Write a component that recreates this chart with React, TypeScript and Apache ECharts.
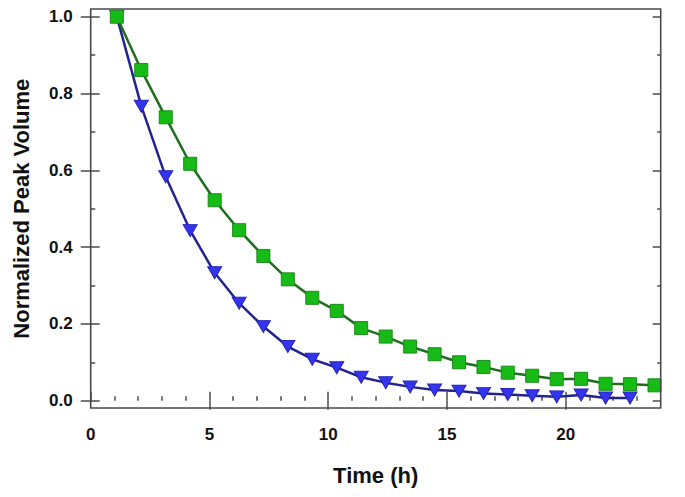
import React, { useEffect, useRef } from "react";
import * as echarts from "echarts";

const timeH = [1.10, 2.13, 3.16, 4.19, 5.22, 6.25, 7.27, 8.30, 9.33, 10.36, 11.39, 12.42, 13.45, 14.48, 15.51, 16.54, 17.56, 18.59, 19.62, 20.65, 21.68, 22.71, 23.74];
const greenValues = [1.0, 0.861, 0.738, 0.617, 0.522, 0.444, 0.377, 0.316, 0.268, 0.234, 0.189, 0.167, 0.141, 0.121, 0.100, 0.088, 0.073, 0.065, 0.056, 0.057, 0.044, 0.043, 0.040];
const blueValues = [1.0, 0.767, 0.583, 0.443, 0.333, 0.254, 0.193, 0.141, 0.108, 0.086, 0.061, 0.047, 0.036, 0.028, 0.025, 0.019, 0.016, 0.013, 0.010, 0.015, 0.007, 0.007];

const xMajorTicks = [0, 5, 10, 15, 20];
const xMinorTicks = [1, 2, 3, 4, 6, 7, 8, 9, 11, 12, 13, 14, 16, 17, 18, 19, 21, 22, 23];
const yMajorTicks = [0, 0.2, 0.4, 0.6, 0.8, 1.0];
const yMinorTicks = [0.1, 0.3, 0.5, 0.7, 0.9];

const FONT = "'Liberation Sans', Arial, sans-serif";
const AXIS_COLOR = "#4a4a4a";

export default function App() {
  const ref = useRef<HTMLDivElement>(null);
  useEffect(() => {
    if (!ref.current) return;
    const chart = echarts.init(ref.current, null, { renderer: "svg" });
    const baseX = { type: "value", min: 0, max: 24, gridIndex: 0, splitLine: { show: false }, axisLine: { show: false } };
    const baseY = { type: "value", min: 0, max: 1, gridIndex: 0, splitLine: { show: false }, axisLine: { show: false } };
    const tickStyle = { color: AXIS_COLOR, width: 1.5 };
    chart.setOption({
      animation: false,
      backgroundColor: "#ffffff",
      grid: { left: 90.7, right: 24.3, top: 16.7, bottom: 96.3, containLabel: false },
      xAxis: [
        {
          ...baseX,
          position: "bottom",
          offset: 7.3,
          axisTick: { show: true, inside: true, length: 9, lineStyle: tickStyle, customValues: xMajorTicks },
          axisLabel: { show: true, customValues: xMajorTicks, margin: 18, fontSize: 17, fontWeight: "bold", color: "#111", fontFamily: FONT },
          name: "Time (h)",
          nameLocation: "middle",
          nameGap: 56,
          nameTextStyle: { fontSize: 22, fontWeight: "bold", color: "#111", fontFamily: FONT },
        },
        {
          ...baseX,
          position: "bottom",
          offset: 7.3,
          axisTick: { show: true, inside: false, length: 9, lineStyle: tickStyle, customValues: [5, 10, 15, 20] },
          axisLabel: { show: false },
        },
        {
          ...baseX,
          position: "bottom",
          offset: 7.3,
          axisTick: { show: true, inside: true, length: 4.5, lineStyle: tickStyle, customValues: xMinorTicks },
          axisLabel: { show: false },
        },
      ],
      yAxis: [
        {
          ...baseY,
          position: "left",
          axisTick: { show: true, inside: true, length: 9, lineStyle: tickStyle, customValues: yMajorTicks },
          axisLabel: {
            show: true,
            customValues: yMajorTicks,
            margin: 18,
            fontSize: 17,
            fontWeight: "bold",
            color: "#111",
            fontFamily: FONT,
            formatter: (v: number) => v.toFixed(1),
          },
          name: "Normalized Peak Volume",
          nameLocation: "middle",
          nameGap: 58,
          nameTextStyle: { fontSize: 22, fontWeight: "bold", color: "#111", fontFamily: FONT },
        },
        {
          ...baseY,
          position: "left",
          axisTick: { show: true, inside: false, length: 10, lineStyle: tickStyle, customValues: yMajorTicks },
          axisLabel: { show: false },
        },
        {
          ...baseY,
          position: "left",
          axisTick: { show: true, inside: true, length: 4.5, lineStyle: tickStyle, customValues: yMinorTicks },
          axisLabel: { show: false },
        },
        {
          ...baseY,
          position: "right",
          axisTick: { show: true, inside: true, length: 8, lineStyle: tickStyle, customValues: yMajorTicks },
          axisLabel: { show: false },
        },
        {
          ...baseY,
          position: "right",
          axisTick: { show: true, inside: true, length: 3.5, lineStyle: tickStyle, customValues: yMinorTicks },
          axisLabel: { show: false },
        },
      ],
      graphic: [
        {
          type: "rect",
          shape: { x: 90.7, y: 9, width: 570, height: 399 },
          style: { fill: "none", stroke: AXIS_COLOR, lineWidth: 1.6 },
          silent: true,
          z: 10,
        },
      ],
      series: [
        {
          type: "line",
          name: "blue",
          xAxisIndex: 0,
          yAxisIndex: 0,
          data: blueValues.map((v, i) => [timeH[i], v]),
          symbol: "triangle",
          symbolRotate: 180,
          symbolSize: [14, 12],
          lineStyle: { color: "#23238f", width: 2.5 },
          itemStyle: { color: "#3434ee", borderColor: "#2424b8", borderWidth: 1 },
          z: 2,
        },
        {
          type: "line",
          name: "green",
          xAxisIndex: 0,
          yAxisIndex: 0,
          data: greenValues.map((v, i) => [timeH[i], v]),
          symbol: "rect",
          symbolSize: 13,
          lineStyle: { color: "#1d6e1d", width: 2.5 },
          itemStyle: { color: "#16bb16", borderColor: "#1a8a1a", borderWidth: 1 },
          z: 3,
        },
      ],
    });
    return () => chart.dispose();
  }, []);
  return <div ref={ref} style={{ position: "fixed", left: 0, top: 0, width: 685, height: 497 }} />;
}
